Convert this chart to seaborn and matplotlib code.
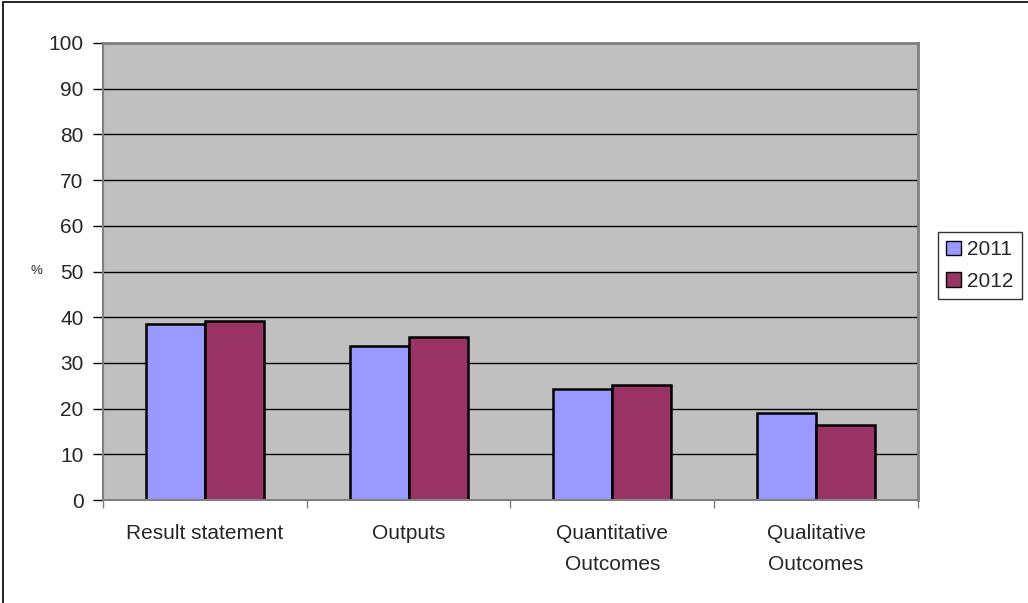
import matplotlib
matplotlib.use("Agg")
import matplotlib.pyplot as plt
import matplotlib.patches as mpatches
import seaborn as sns
import pandas as pd

categories = ["Result statement", "Outputs", "Quantitative\nOutcomes", "Qualitative\nOutcomes"]
years = ["2011", "2012"]
values_2011 = [38.6, 33.8, 24.2, 19.1]
values_2012 = [39.1, 35.7, 25.2, 16.5]
y_ticks = [0, 10, 20, 30, 40, 50, 60, 70, 80, 90, 100]

df = pd.DataFrame({
    "category": categories * 2,
    "year": [years[0]] * 4 + [years[1]] * 4,
    "value": values_2011 + values_2012,
})

sns.set_style("white")
plt.rcParams["font.family"] = ["Liberation Sans", "DejaVu Sans"]

FS = 15

fig = plt.figure(figsize=(10.28, 6.03), dpi=100)
ax = fig.add_axes([103 / 1028, 1 - 500 / 603, 815 / 1028, 457 / 603])

palette = {"2011": "#9999FF", "2012": "#993366"}
sns.barplot(data=df, x="category", y="value", hue="year", palette=palette,
            order=categories, hue_order=years, width=0.58, gap=0,
            edgecolor="black", linewidth=1.8, saturation=1, ax=ax, legend=False)

ax.set_facecolor("#C0C0C0")
ax.set_ylim(0, 100)
ax.set_xlim(-0.5, 3.5)
ax.set_yticks(y_ticks)
ax.set_yticklabels([str(t) for t in y_ticks], fontsize=FS)
for t in y_ticks[1:]:
    ax.axhline(t, color="black", linewidth=1, zorder=0.5)
ax.set_axisbelow(True)

# category labels centred, ticks at the category boundaries
ax.set_xticks(range(len(categories)))
ax.set_xticklabels(categories, fontsize=FS, linespacing=1.85)
ax.tick_params(axis="x", length=0, pad=17)
ax.set_xticks([-0.5, 0.5, 1.5, 2.5, 3.5], minor=True)
ax.tick_params(axis="x", which="minor", length=6, width=1, color="#808080", direction="out", bottom=True)
ax.tick_params(axis="y", length=7, width=1, color="black", direction="out", left=True, pad=7)

for side in ["top", "right"]:
    ax.spines[side].set_color("#808080")
    ax.spines[side].set_linewidth(2)
for side in ["left", "bottom"]:
    ax.spines[side].set_color("#808080")
    ax.spines[side].set_linewidth(1.5)

ax.set_xlabel("")
ax.set_ylabel("")
fig.text(36 / 1028, 1 - 271 / 603, "%", fontsize=9.5, ha="center", va="center")

handles = [mpatches.Patch(facecolor=palette[y], edgecolor="black", linewidth=1, label=y) for y in years]
leg = fig.legend(handles=handles, loc="upper left", bbox_to_anchor=(938 / 1028, 1 - 232 / 603),
                 frameon=True, fontsize=FS, handlelength=0.7, handleheight=0.7,
                 handletextpad=0.3, labelspacing=0.6, borderpad=0.4, borderaxespad=0,
                 fancybox=False)
leg.get_frame().set_edgecolor("black")
leg.get_frame().set_linewidth(1)

# chart border
fig.add_artist(mpatches.Rectangle((3 / 1028, -0.05), 1.2, 1 - 2 / 603 + 0.05, transform=fig.transFigure,
                                  fill=False, edgecolor="black", linewidth=1.2))

fig.savefig("out.png", dpi=100, facecolor="white")
